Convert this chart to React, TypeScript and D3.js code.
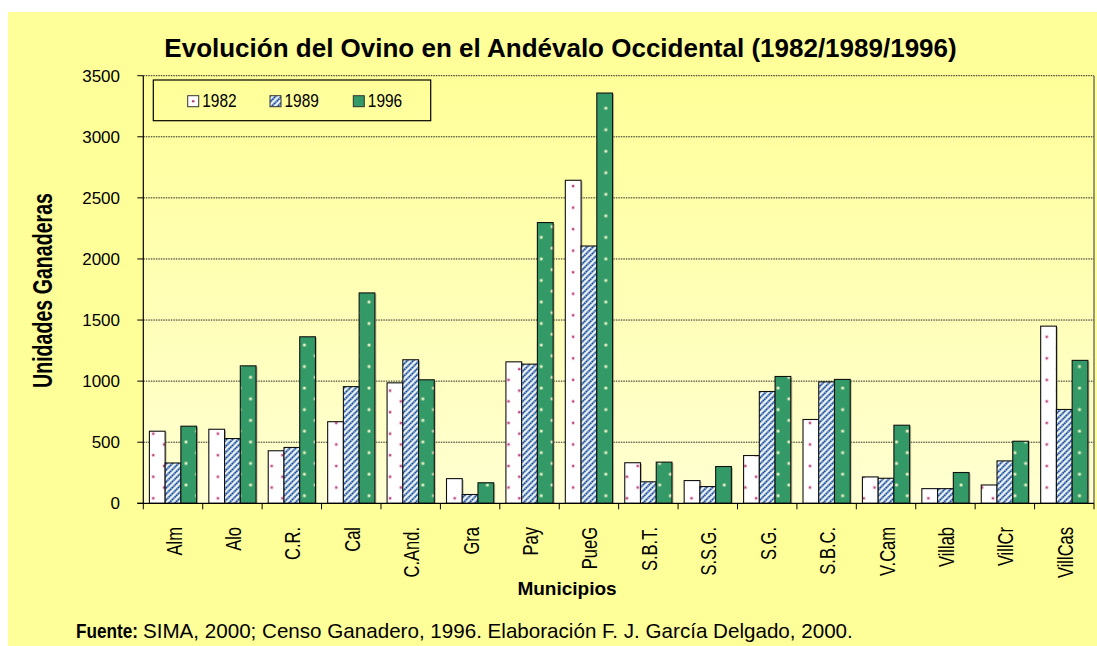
import React from 'react';
import * as d3 from 'd3';

const categories = ['Alm', 'Alo', 'C.R.', 'Cal', 'C.And.', 'Gra', 'Pay', 'PueG', 'S.B.T.', 'S.S.G.', 'S.G.', 'S.B.C.', 'V.Cam', 'Villab', 'VillCr', 'VillCas'];
const years = ['1982', '1989', '1996'];
const values1982 = [590, 606, 430, 668, 986, 202, 1158, 2644, 332, 186, 391, 686, 216, 120, 150, 1450];
const values1989 = [330, 530, 457, 955, 1175, 72, 1139, 2106, 176, 137, 915, 994, 205, 120, 347, 768];
const values1996 = [631, 1125, 1363, 1722, 1011, 168, 2298, 3358, 337, 301, 1038, 1014, 639, 252, 508, 1170];
const yTicks = [0, 500, 1000, 1500, 2000, 2500, 3000, 3500];
const titleText = 'Evolución del Ovino en el Andévalo Occidental (1982/1989/1996)';
const yAxisTitle = 'Unidades Ganaderas';
const xAxisTitle = 'Municipios';
const sourceLabel = 'Fuente:';
const sourceText = 'SIMA, 2000; Censo Ganadero, 1996. Elaboración F. J. García Delgado, 2000.';

const seriesValues: Record<string, number[]> = { '1982': values1982, '1989': values1989, '1996': values1996 };
const fills: Record<string, string> = { '1982': 'url(#p1982)', '1989': 'url(#p1989)', '1996': 'url(#p1996)' };

const W = 1097;
const H = 646;
const FONT = "'Liberation Sans', Arial, sans-serif";

export default function App() {
  React.useLayoutEffect(() => {
    document.body.style.margin = '0';
    document.body.style.overflow = 'hidden';
  }, []);

  const plotL = 143.3, plotR = 1094, plotT = 75.7, plotB = 503.3;
  const x0 = d3.scaleBand<string>().domain(categories).range([plotL, plotR]).paddingInner(0).paddingOuter(0);
  const x1 = d3.scaleBand<string>().domain(years).range([6.1, x0.bandwidth() - 6.1]).padding(0);
  const y = d3.scaleLinear().domain([0, 3500]).range([plotB, plotT]);

  const P = 21.53;

  return (
    <svg width={W} height={H} style={{ display: 'block', position: 'fixed', left: 0, top: 0 }} fontFamily={FONT}>
      <defs>
        <linearGradient id="plotGrad" x1="0" y1="0" x2="0" y2="1">
          <stop offset="0" stopColor="#FFFF99" />
          <stop offset="1" stopColor="#FFFFD2" />
        </linearGradient>
        <pattern id="p1982" patternUnits="userSpaceOnUse" width={P} height={P} x={153.3 - 5} y={498.3 - 5}>
          <rect width={P} height={P} fill="#FFFFFF" />
          <circle cx={5} cy={5} r={2} fill="#F3D2E2" />
          <circle cx={5} cy={5} r={1.2} fill="#B8407A" />
          <circle cx={5 + P / 2} cy={5 + P / 2} r={2} fill="#F3D2E2" />
          <circle cx={5 + P / 2} cy={5 + P / 2} r={1.2} fill="#B8407A" />
        </pattern>
        <pattern id="p1996" patternUnits="userSpaceOnUse" width={P} height={P} x={186 - 5} y={485 - 5}>
          <rect width={P} height={P} fill="#339966" />
          <circle cx={5} cy={5} r={1.9} fill="#9ACB9A" />
          <circle cx={5} cy={5} r={1.1} fill="#F4F7D0" />
          <circle cx={5 + P / 2} cy={5 + P / 2} r={1.9} fill="#9ACB9A" />
          <circle cx={5 + P / 2} cy={5 + P / 2} r={1.1} fill="#F4F7D0" />
        </pattern>
        <pattern id="p1989" patternUnits="userSpaceOnUse" width={6} height={6}>
          <rect width={6} height={6} fill="#FFFFFF" />
          <path d="M-1,7 L7,-1 M-1,1 L1,-1 M5,7 L7,5" stroke="#8FB0DA" strokeWidth={2.8} />
          <path d="M-1,7 L7,-1 M-1,1 L1,-1 M5,7 L7,5" stroke="#1F4C86" strokeWidth={1.4} strokeDasharray="1.5 0.8" />
        </pattern>
      </defs>

      {/* chart background */}
      <rect x={8} y={12} width={W - 8} height={H - 12} fill="#FFFF99" />
      {/* plot area */}
      <rect x={plotL} y={plotT} width={plotR - plotL} height={plotB - plotT} fill="url(#plotGrad)" />

      {/* gridlines */}
      {yTicks.filter(t => t > 0).map(t => (
        <line key={'g' + t} x1={plotL} x2={plotR} y1={y(t)} y2={y(t)} stroke="#222" strokeWidth={1} strokeDasharray="1.5 1" />
      ))}
      <line x1={plotR} x2={plotR} y1={plotT} y2={plotB} stroke="#555" strokeWidth={1.2} />

      {/* title */}
      <text x={560.5} y={57} textAnchor="middle" fontSize={26} fontWeight="bold" fill="#000">{titleText}</text>

      {/* bars */}
      {categories.map((c, i) => (
        <g key={c}>
          {years.map(yr => {
            const v = seriesValues[yr][i];
            const bx = (x0(c) as number) + (x1(yr) as number);
            const bw = x1.bandwidth();
            const by = y(v);
            const bh = plotB - by;
            return (
              <g key={yr}>
                <rect x={bx + 1.5} y={by + 1} width={bw} height={bh - 1} fill="#8a8a6a" opacity={0.55} />
                <rect x={bx} y={by} width={bw} height={bh} fill={fills[yr]} stroke="#111" strokeWidth={1.1} />
              </g>
            );
          })}
        </g>
      ))}

      {/* y axis */}
      <line x1={plotL} x2={plotL} y1={plotT} y2={plotB} stroke="#000" strokeWidth={1.2} />
      {yTicks.map(t => (
        <g key={'yt' + t}>
          <line x1={plotL - 6} x2={plotL} y1={y(t)} y2={y(t)} stroke="#000" strokeWidth={1} />
          <text x={120} y={y(t) + 6} textAnchor="end" fontSize={17} fill="#000">{t}</text>
        </g>
      ))}

      {/* x axis */}
      <line x1={plotL - 6} x2={plotR} y1={plotB} y2={plotB} stroke="#000" strokeWidth={1.2} />
      {categories.map(c => (
        <line key={'xt' + c} x1={x0(c) as number} x2={x0(c) as number} y1={plotB} y2={plotB + 6} stroke="#000" strokeWidth={1} />
      ))}
      <line x1={plotR} x2={plotR} y1={plotB} y2={plotB + 6} stroke="#000" strokeWidth={1} />
      {categories.map(c => {
        const cx = (x0(c) as number) + x0.bandwidth() / 2;
        return (
          <text key={'xl' + c} transform={`translate(${cx + 8.5},527) rotate(-90) scale(0.75,1)`} textAnchor="end" fontSize={22} fill="#000">{c}</text>
        );
      })}

      {/* axis titles */}
      <text transform="translate(52,290.5) rotate(-90) scale(0.726,1)" textAnchor="middle" fontSize={27} fontWeight="bold" fill="#000">{yAxisTitle}</text>
      <text x={567} y={595} textAnchor="middle" fontSize={19} fontWeight="bold" fill="#000">{xAxisTitle}</text>

      {/* legend */}
      <rect x={153.3} y={80} width={277.4} height={40.7} fill="none" stroke="#000" strokeWidth={1.2} />
      {years.map((yr, k) => {
        const sx = [187.7, 270, 353.3][k];
        return (
          <g key={'lg' + yr}>
            {yr === '1982' ? (
              <g>
                <rect x={sx} y={95.7} width={11} height={11} fill="#fff" stroke="#333" strokeWidth={1} />
                <circle cx={sx + 5.5} cy={101.2} r={1.3} fill="#B8407A" />
              </g>
            ) : (
              <rect x={sx} y={95.7} width={11} height={11} fill={yr === '1989' ? 'url(#p1989)' : '#339966'} stroke="#333" strokeWidth={1} />
            )}
            <text transform={`translate(${sx + 14.5},107.3) scale(0.86,1)`} fontSize={18} fill="#000">{yr}</text>
          </g>
        );
      })}

      {/* source */}
      <text transform="translate(76,638) scale(0.86,1)" fontSize={20} fontWeight="bold" fill="#000">{sourceLabel}</text>
      <text x={143} y={638} fontSize={20.6} fill="#000">{sourceText}</text>
    </svg>
  );
}
